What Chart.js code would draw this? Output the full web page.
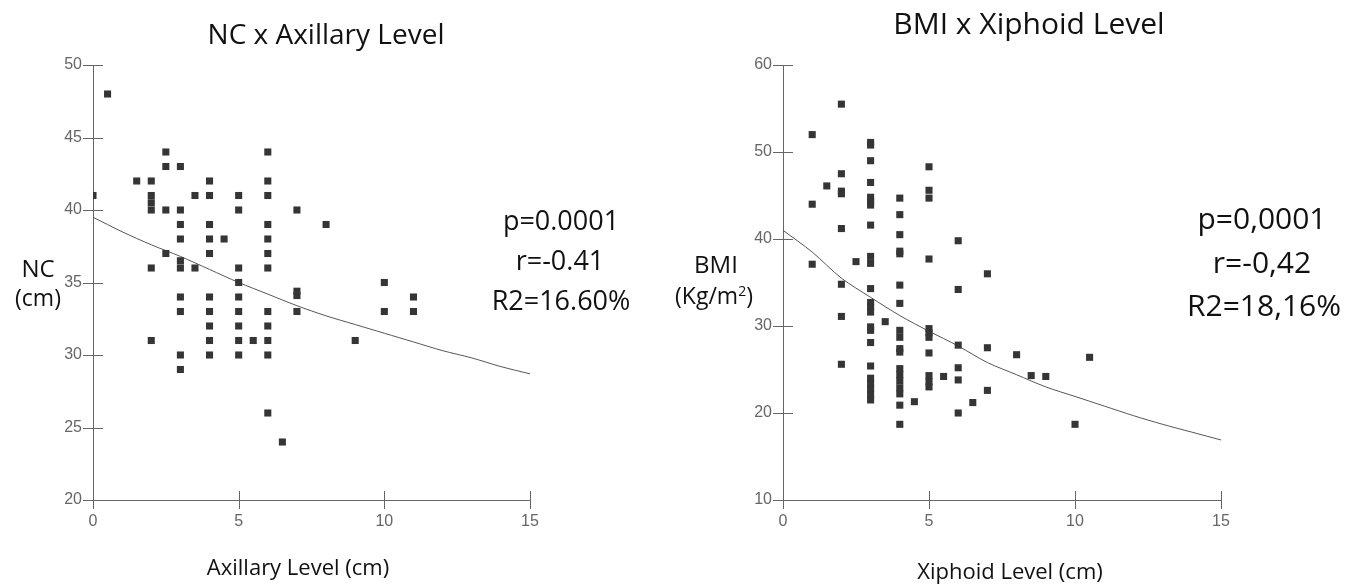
<!DOCTYPE html>
<html>
<head>
<meta charset="utf-8">
<script src="https://cdn.jsdelivr.net/npm/chart.js@4/dist/chart.umd.min.js"></script>
<style>
  body { margin: 0; background: #fff; }
  #wrap { position: relative; width: 1361px; height: 584px; overflow: hidden; font-family: "Open Sans", sans-serif; color: #111; }
  canvas { position: absolute; top: 0; }
  .t { position: absolute; transform: translate(-50%, -50%); white-space: nowrap; text-align: center; line-height: 1.2; }
</style>
</head>
<body>
<div id="wrap">
  <canvas id="nc" width="680" height="584" style="left:0"></canvas>
  <canvas id="bmi" width="671" height="584" style="left:690px"></canvas>

  <div class="t" style="left:326px; top:34px; font-size:28px">NC x Axillary Level</div>
  <div class="t" style="left:38px; top:268px; font-size:24px">NC</div>
  <div class="t" style="left:38px; top:298px; font-size:23px">(cm)</div>
  <div class="t" style="left:298px; top:566px; font-size:22px">Axillary Level (cm)</div>
  <div class="t" style="left:561px; top:220px; font-size:27px">p=0.0001</div>
  <div class="t" style="left:560px; top:260px; font-size:27px">r=-0.41</div>
  <div class="t" style="left:561px; top:300px; font-size:27px">R2=16.60%</div>

  <div class="t" style="left:1029px; top:23px; font-size:30px">BMI x Xiphoid Level</div>
  <div class="t" style="left:716px; top:264px; font-size:24px">BMI</div>
  <div class="t" style="left:714px; top:296px; font-size:23px">(Kg/m<sup style="font-size:14px">2</sup>)</div>
  <div class="t" style="left:1010px; top:570px; font-size:22px">Xiphoid Level (cm)</div>
  <div class="t" style="left:1262px; top:218px; font-size:30px">p=0,0001</div>
  <div class="t" style="left:1262px; top:262px; font-size:30px">r=-0,42</div>
  <div class="t" style="left:1264px; top:305px; font-size:30px">R2=18,16%</div>
</div>
<script>
// NC vs axillary level
var axX = [0.5, 0, 1.5, 2, 2, 2, 2, 2, 2,
  2.5, 2.5, 2.5, 2.5,
  3, 3, 3, 3, 3, 3, 3, 3, 3, 3,
  3.5, 3.5,
  4, 4, 4, 4, 4, 4, 4, 4, 4, 4,
  4.5,
  5, 5, 5, 5, 5, 5, 5, 5, 5,
  5.5,
  6, 6, 6, 6, 6, 6, 6, 6, 6, 6, 6, 6,
  6.5,
  7, 7, 7, 7,
  8, 9, 10, 10, 11, 11];
var ncY = [48, 41, 42, 42, 41, 40.5, 40, 36, 31,
  44, 43, 40, 37,
  43, 40, 39, 38, 36.5, 36, 34, 33, 30, 29,
  41, 36,
  42, 41, 39, 38, 37, 34, 33, 32, 31, 30,
  38,
  41, 40, 36, 35, 34, 33, 32, 31, 30,
  31,
  44, 42, 41, 39, 38, 37, 36, 33, 32, 31, 30, 26,
  24,
  40, 34.4, 34.1, 33,
  39, 31, 35, 33, 34, 33];

// BMI vs xiphoid level
var xiX = [1, 1, 1,
  1.5,
  2, 2, 2, 2, 2, 2, 2, 2,
  2.5,
  3, 3, 3, 3, 3, 3, 3, 3, 3, 3, 3, 3,
  3, 3, 3, 3, 3, 3, 3, 3, 3, 3, 3,
  3.5,
  4, 4, 4, 4, 4, 4, 4, 4, 4,
  4, 4, 4, 4, 4, 4, 4, 4, 4,
  4.5,
  5, 5, 5, 5, 5, 5, 5, 5, 5, 5, 5,
  5.5,
  6, 6, 6, 6, 6, 6,
  6.5,
  7, 7, 7,
  8, 8.5, 9, 10, 10.5];
var bmiY = [52, 44, 37.1,
  46.1,
  55.5, 47.5, 45.5, 45.2, 41.2, 34.8, 31.1, 25.6,
  37.4,
  51.1, 50.8, 49, 46.5, 44.8, 44.3, 43.9, 41.6, 38, 37.2, 34.3, 32.7,
  32.2, 31.6, 29.9, 29.5, 28.1, 25.4, 24, 23.4, 22.8, 22.1, 21.5,
  30.5,
  44.7, 42.8, 40.5, 38.6, 38.3, 34.7, 32.6, 29.5, 28.7,
  27.4, 27.0, 25.1, 24.4, 23.7, 22.9, 22.2, 20.9, 18.7,
  21.3,
  48.3, 45.6, 44.7, 37.7, 29.7, 29.2, 28.7, 26.9, 24.3, 23.6, 23.0,
  24.2,
  39.8, 34.2, 27.8, 25.2, 23.8, 20,
  21.2,
  36, 27.5, 22.6,
  26.7, 24.3, 24.2, 18.7, 26.4];

// fitted curves
var fitX = [0, 1, 2, 3, 4, 5, 6, 7, 8, 9, 10, 11, 12, 13, 14, 15];
var ncFit = [39.5, 38.5, 37.6, 36.8, 35.9, 35.0, 34.2, 33.4, 32.7, 32.1, 31.5, 30.9, 30.3, 29.8, 29.2, 28.7];
var bmiFit = [41.0, 38.5, 35.5, 33.3, 31.2, 29.4, 27.7, 25.8, 24.4, 23.0, 21.9, 20.8, 19.7, 18.7, 17.8, 16.9];

var xTicks = [0, 5, 10, 15];
var ncTicks = [20, 25, 30, 35, 40, 45, 50];
var bmiTicks = [10, 20, 30, 40, 50, 60];

function pts(xs, ys) {
  return xs.map(function (x, i) { return { x: x, y: ys[i] }; });
}

// tick marks that cross the axis lines
var crossTicks = {
  id: 'crossTicks',
  afterDraw: function (chart) {
    var ctx = chart.ctx, a = chart.chartArea;
    var xs = chart.scales.x, ys = chart.scales.y;
    ctx.save();
    ctx.strokeStyle = '#666';
    ctx.lineWidth = 1;
    ctx.beginPath();
    xs.ticks.forEach(function (t) {
      var px = Math.round(xs.getPixelForValue(t.value)) + 0.5;
      ctx.moveTo(px, a.bottom - 9);
      ctx.lineTo(px, a.bottom + 9);
    });
    ys.ticks.forEach(function (t) {
      var py = Math.round(ys.getPixelForValue(t.value)) + 0.5;
      ctx.moveTo(a.left - 10, py);
      ctx.lineTo(a.left + 10, py);
    });
    ctx.stroke();
    ctx.restore();
  }
};

function makeChart(id, xs, ys, fit, yTicks, pad) {
  return new Chart(id, {
    type: 'scatter',
    data: {
      datasets: [{
        data: pts(xs, ys),
        pointStyle: 'rect',
        pointRadius: 5,
        pointBorderWidth: 0,
        backgroundColor: '#353535',
        borderColor: '#353535'
      }, {
        type: 'line',
        data: pts(fitX, fit),
        showLine: true,
        pointRadius: 0,
        borderColor: '#555',
        borderWidth: 1,
        tension: 0.3,
        fill: false
      }]
    },
    options: {
      responsive: false,
      animation: false,
      layout: { padding: pad },
      plugins: { legend: { display: false }, tooltip: { enabled: false } },
      scales: {
        x: {
          type: 'linear',
          min: 0, max: 15,
          afterBuildTicks: function (s) { s.ticks = xTicks.map(function (v) { return { value: v }; }); },
          grid: { display: false, drawTicks: false },
          border: { display: true, color: '#666', width: 1 },
          ticks: { padding: 12, color: '#666', font: { family: 'Liberation Sans', size: 16 } },
          afterFit: function (s) { s.height = 84; }
        },
        y: {
          min: yTicks[0], max: yTicks[yTicks.length - 1],
          afterBuildTicks: function (s) { s.ticks = yTicks.map(function (v) { return { value: v }; }); },
          grid: { display: false, drawTicks: false },
          border: { display: true, color: '#666', width: 1 },
          ticks: { padding: 11, color: '#666', font: { family: 'Liberation Sans', size: 16 } },
          afterFit: function (s) { s.width = 93; }
        }
      }
    },
    plugins: [crossTicks]
  });
}

makeChart('nc', axX, ncY, ncFit, ncTicks, { left: 0, right: 150, top: 65, bottom: 0 });
makeChart('bmi', xiX, bmiY, bmiFit, bmiTicks, { left: 0, right: 140, top: 65, bottom: 0 });
</script>
</body>
</html>
